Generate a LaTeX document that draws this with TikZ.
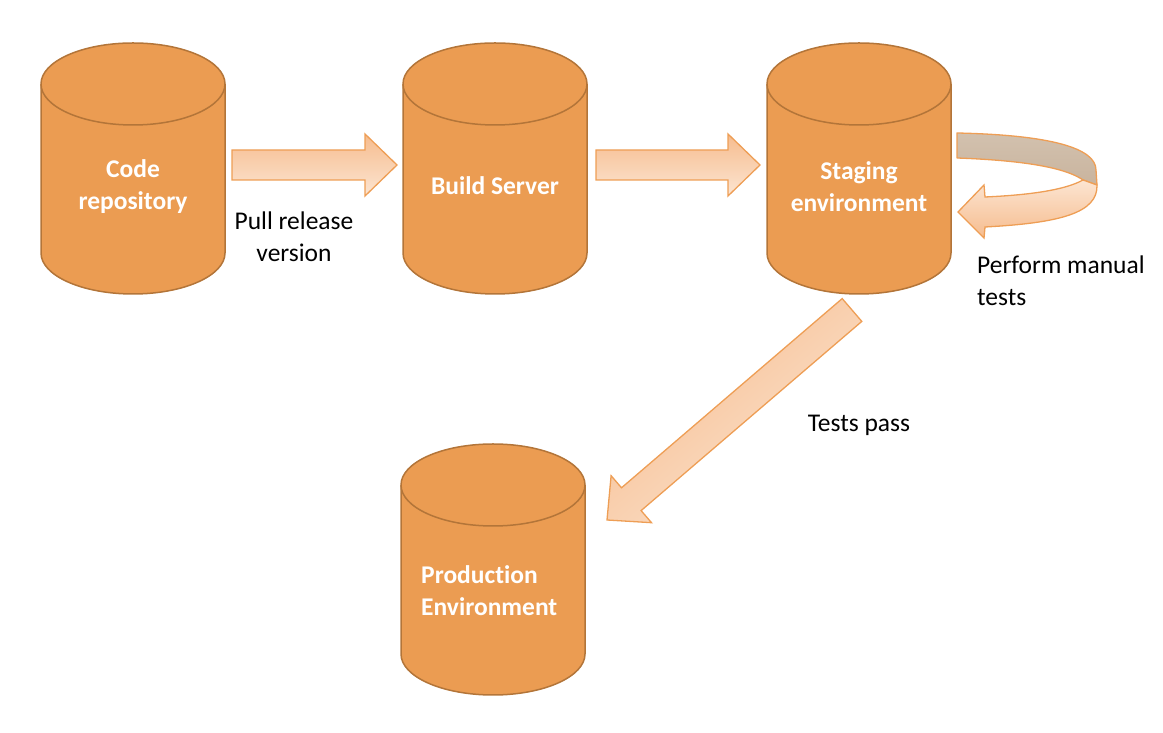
\documentclass[tikz,border=0pt]{standalone}
\usepackage{fontspec}
\setmainfont{Carlito}[Ligatures=CommonOff]
\definecolor{cylfill}{HTML}{EB9C52}
\definecolor{cyledge}{HTML}{B37539}
\definecolor{arrdark}{HTML}{F6BC8E}
\definecolor{arrlight}{HTML}{FCE5D2}
\definecolor{arredge}{HTML}{EE9E55}
\definecolor{bandgray}{HTML}{C9B49E}
\definecolor{bandgraylt}{HTML}{D2C1AE}
\begin{document}
\begin{tikzpicture}[x=1pt,y=1pt,
  cyl/.pic={
    \path[fill=cylfill,draw=cyledge,line width=1.5pt]
      (-92,0) -- (-92,-169) arc (180:360:92pt and 41pt) -- (92,0) arc (0:180:92pt and 41pt) -- cycle;
    \draw[cyledge,line width=1.5pt] (-92,0) arc (180:360:92pt and 41pt);
  },
  cyltext/.style={text=white,font=\bfseries\fontsize{25.5}{32}\selectfont,align=center},
  lbl/.style={text=black,font=\fontsize{25.5}{32}\selectfont},
  blockarrow/.style={draw=arredge,line width=1.3pt,line join=miter},
]
\useasboundingbox (0,0) rectangle (1163,733);

% cylinders
\pic at (133,649) {cyl};
\pic at (495,649) {cyl};
\pic at (859,649) {cyl};
\pic at (493,248) {cyl};

\node[cyltext] (code) at (133,546) {Code\\repository};
\node[cyltext] (build) at (495,547) {Build Server};
\node[cyltext] (staging) at (859,546) {Staging\\environment};
\node[cyltext,align=left,anchor=west,inner xsep=0pt] (prod) at (421,142) {Production\\Environment};

% arrow end coordinates
\coordinate (a1s) at (232,568);
\coordinate (a2s) at (596,568);

% horizontal block arrows
\path[blockarrow,top color=arrdark,bottom color=arrlight]
  ([yshift=-15]a1s) -- ++(133,0) -- ++(0,-16) -- ++(32,31) -- ++(-32,31) -- ++(0,-16) -- ++(-133,0) -- cycle;
\path[blockarrow,top color=arrdark,bottom color=arrlight]
  ([yshift=-15]a2s) -- ++(132,0) -- ++(0,-16) -- ++(32,31) -- ++(-32,31) -- ++(0,-16) -- ++(-132,0) -- cycle;

% diagonal block arrow
\path[blockarrow,top color=arrdark,bottom color=arrlight,shading angle=40.6]
  (842.2,434.4) -- (621.5,245.2) -- (611.1,257.3) -- (607,213) -- (651.5,210.3) -- (641.1,222.4) -- (861.8,411.6) -- cycle;

% curved self arrow
\path[draw=arredge,line width=1.3pt,top color=bandgraylt,bottom color=bandgray,line join=round]
  (957,600) .. controls (1050,598) and (1096,585) .. (1096,563) -- (1097,548) -- (1083,553)
  .. controls (1070,562) and (1040,572) .. (957,575) -- cycle;
\path[draw=arredge,line width=1.3pt,top color=arrlight,bottom color=arrdark,line join=miter]
  (1097,548) .. controls (1098,520) and (1060,510) .. (985,506) -- (984,495) -- (958,521)
  -- (984,548) -- (985,536) .. controls (1030,538) and (1065,543) .. (1083,553) -- cycle;

% labels
\node[lbl,align=center] (pull) at (294,496) {Pull release\\version};
\node[lbl,align=left,anchor=west,inner xsep=0pt] (manual) at (977,452) {Perform manual\\tests};
\node[lbl] (pass) at (859,308) {Tests pass};
\end{tikzpicture}
\end{document}
